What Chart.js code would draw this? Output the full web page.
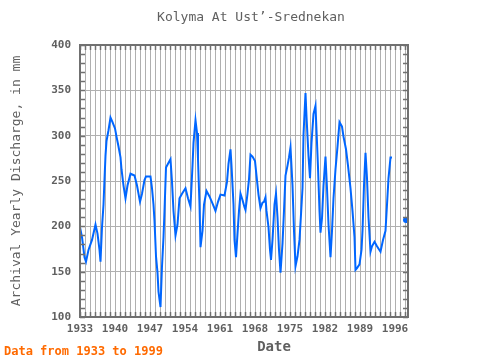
<!DOCTYPE html>
<html>
<head>
<meta charset="utf-8">
<script src="https://cdn.jsdelivr.net/npm/chart.js@4.4.0/dist/chart.umd.min.js"></script>
<style>
  html, body { margin: 0; padding: 0; background: #fff; }
  #wrap { width: 480px; height: 360px; }
</style>
</head>
<body>
<div id="wrap"><canvas id="c" width="480" height="360"></canvas></div>
<script>
// values (x in fractional years, y in mm)
const years = [
  1933.0, 1933.4, 1933.9, 1934.2, 1934.7, 1935.4, 1936.1, 1936.5, 1936.9, 1937.1,
  1937.4, 1937.7, 1937.9, 1938.1, 1938.3, 1938.7, 1939.1, 1939.5, 1940.0, 1940.3,
  1940.7, 1941.1, 1941.3, 1941.7, 1942.1, 1942.5, 1943.1, 1943.9, 1944.4, 1945.0,
  1945.4, 1945.9, 1946.2, 1947.1, 1947.4, 1947.7, 1947.9, 1948.2, 1948.5, 1948.7,
  1949.1, 1949.4, 1949.7, 1949.9, 1950.2, 1950.6, 1951.1, 1951.4, 1951.7, 1952.1,
  1952.5, 1952.9, 1953.4, 1954.1, 1954.6, 1955.1, 1955.5, 1955.7, 1956.1, 1956.4,
  1956.6, 1956.9, 1957.1, 1957.5, 1957.8, 1958.3, 1958.9, 1959.6, 1960.1, 1960.6,
  1961.1, 1961.9, 1962.4, 1962.7, 1963.1, 1963.3, 1963.7, 1963.9, 1964.2, 1964.5,
  1964.8, 1965.1, 1965.5, 1965.9, 1966.1, 1966.5, 1966.8, 1967.1, 1967.5, 1968.0,
  1968.3, 1968.7, 1969.1, 1969.5, 1969.8, 1970.1, 1970.3, 1970.7, 1971.0, 1971.2,
  1971.5, 1971.9, 1972.2, 1972.5, 1972.8, 1973.1, 1973.5, 1973.8, 1974.1, 1974.5,
  1974.8, 1975.1, 1975.5, 1975.8, 1976.1, 1976.5, 1976.9, 1977.2, 1977.5, 1977.7,
  1978.1, 1978.3, 1978.7, 1979.0, 1979.3, 1979.7, 1980.1, 1980.3, 1980.6, 1980.9,
  1981.1, 1981.4, 1981.7, 1982.1, 1982.4, 1982.7, 1983.1, 1983.4, 1983.7, 1984.1,
  1984.5, 1984.9, 1985.4, 1985.7, 1986.2, 1986.6, 1987.1, 1987.5, 1987.9, 1988.1,
  1988.4, 1988.9, 1989.3, 1989.5, 1989.8, 1990.1, 1990.4, 1990.7, 1991.1, 1991.4,
  1991.9, 1992.4, 1993.1, 1993.6, 1994.1, 1994.4, 1994.7, 1995.1, 1995.4, 1996.5,
  1998.2
];
const discharge = [
  199, 188, 166, 161, 174, 185, 202, 192, 174, 161,
  199, 224, 252, 278, 294, 306, 320, 315, 308, 299,
  288, 276, 263, 245, 231, 245, 258, 256, 245, 227,
  236, 251, 255, 255, 242, 224, 206, 167, 149, 128,
  111, 156, 188, 217, 265, 269, 274, 249, 217, 190,
  202, 231, 236, 242, 231, 222, 267, 292, 317, 303,
  274, 224, 177, 195, 224, 239, 233, 224, 217, 227,
  235, 234, 249, 269, 285, 267, 224, 185, 166, 192,
  217, 236, 229, 221, 218, 236, 252, 279, 277, 272,
  256, 235, 220, 226, 227, 232, 217, 199, 174, 163,
  185, 224, 236, 210, 174, 149, 181, 217, 256, 267,
  276, 287, 245, 195, 156, 167, 185, 213, 242, 301,
  347, 321, 278, 253, 292, 324, 333, 306, 265, 217,
  193, 209, 245, 277, 242, 202, 166, 195, 231, 263,
  288, 315, 310, 299, 285, 267, 242, 217, 188, 152,
  154, 158, 174, 195, 245, 281, 253, 210, 172, 178,
  183, 178, 172, 185, 195, 224, 253, 276, 276, null,
  207
];
const xTickYears = [1933, 1940, 1947, 1954, 1961, 1968, 1975, 1982, 1989, 1996];
const yTickValues = [100, 150, 200, 250, 300, 350, 400];

const titleText = 'Kolyma At Ust\u2019-Srednekan';
const yTitle = 'Archival Yearly Discharge, in mm';
const xTitle = 'Date';
const noteText = 'Data from 1933 to 1999';

const FRAME = '#707070';
const GRID = '#b0b0b0';
const TEXT = '#606060';
const MONO = '"DejaVu Sans Mono", monospace';

// isolated points (no neighbour on either side) get a dot
const lonely = (i) => discharge[i] != null &&
  (i === 0 || discharge[i - 1] == null) &&
  (i === discharge.length - 1 || discharge[i + 1] == null);

const decor = {
  id: 'decor',
  afterDatasetsDraw(chart) {
    const { ctx, chartArea: a, scales } = chart;
    ctx.save();
    ctx.strokeStyle = FRAME;
    ctx.lineWidth = 2;
    ctx.strokeRect(a.left, a.top, a.right - a.left, a.bottom - a.top);
    ctx.lineWidth = 1.5;
    ctx.beginPath();
    scales.x.ticks.forEach(t => {
      if (!Number.isInteger(t.value)) return;
      const x = Math.round(scales.x.getPixelForValue(t.value)) + 0.5;
      ctx.moveTo(x, a.top); ctx.lineTo(x, a.top + 5);
      ctx.moveTo(x, a.bottom); ctx.lineTo(x, a.bottom - 5);
    });
    scales.y.ticks.forEach(t => {
      const y = Math.round(scales.y.getPixelForValue(t.value)) + 0.5;
      ctx.moveTo(a.left, y); ctx.lineTo(a.left + 5, y);
      ctx.moveTo(a.right, y); ctx.lineTo(a.right - 5, y);
    });
    ctx.stroke();
    ctx.restore();
  },
  afterDraw(chart) {
    const { ctx } = chart;
    ctx.save();
    ctx.fillStyle = TEXT;
    ctx.textAlign = 'center';
    ctx.textBaseline = 'middle';
    ctx.font = '13px ' + MONO;
    ctx.fillText(titleText, 251, 18);

    ctx.font = 'bold 14px ' + MONO;
    ctx.fillText(xTitle, 274, 347);

    ctx.save();
    ctx.translate(17, 181);
    ctx.rotate(-Math.PI / 2);
    ctx.font = '13px ' + MONO;
    ctx.fillText(yTitle, 0, 0);
    ctx.restore();

    ctx.textAlign = 'left';
    ctx.fillStyle = '#ff6a00';
    ctx.font = 'bold 12px ' + MONO;
    ctx.fillText(noteText, 4, 352);
    ctx.restore();
  }
};

new Chart(document.getElementById('c'), {
  type: 'line',
  data: {
    datasets: [{
      data: years.map((y, i) => ({ x: y, y: discharge[i] })),
      borderColor: '#0066ff',
      backgroundColor: '#0066ff',
      borderWidth: 2,
      pointRadius: ctx => lonely(ctx.dataIndex) ? 2 : 0,
      pointHoverRadius: 0,
      spanGaps: false,
      tension: 0
    }]
  },
  options: {
    responsive: false,
    animation: false,
    events: [],
    layout: { padding: { top: 45, right: 72, left: 0, bottom: 0 } },
    plugins: { legend: { display: false }, title: { display: false }, tooltip: { enabled: false } },
    scales: {
      x: {
        type: 'linear',
        min: 1933,
        max: 1998.6,
        afterFit: s => { s.height = 43; },
        afterBuildTicks: s => {
          const t = [];
          for (let v = 1933; v <= 1998; v++) t.push({ value: v });
          s.ticks = t;
        },
        ticks: {
          autoSkip: false,
          maxRotation: 0,
          padding: 6,
          color: TEXT,
          font: { family: MONO, size: 11, weight: 'bold' },
          callback: v => xTickYears.includes(v) ? String(v) : ''
        },
        grid: { color: GRID, lineWidth: 1, drawTicks: false },
        border: { display: false }
      },
      y: {
        min: 100,
        max: 400,
        afterFit: s => { s.width = 80; },
        afterBuildTicks: s => {
          const t = [];
          for (let v = 100; v <= 400; v += 10) t.push({ value: v });
          s.ticks = t;
        },
        ticks: {
          autoSkip: false,
          padding: 9,
          color: TEXT,
          font: { family: MONO, size: 11, weight: 'bold' },
          callback: v => yTickValues.includes(v) ? String(v) : ''
        },
        grid: {
          color: c => (c.tick && yTickValues.includes(c.tick.value)) ? GRID : 'rgba(0,0,0,0)',
          lineWidth: 1,
          drawTicks: false
        },
        border: { display: false }
      }
    }
  },
  plugins: [decor]
});
</script>
</body>
</html>
